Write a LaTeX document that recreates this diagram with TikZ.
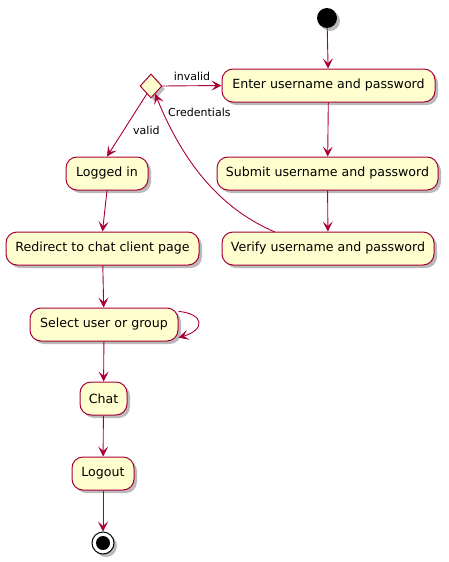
\documentclass[tikz,border=0pt]{standalone}
\usepackage{fontspec}
\setmainfont{DejaVu Sans}
\usetikzlibrary{shapes.geometric,shadows,arrows.meta}
\definecolor{pfill}{HTML}{FEFECE}
\definecolor{pline}{HTML}{A80036}
\begin{document}
\begin{tikzpicture}[x=1pt,y=-1pt,
  act/.style={draw=pline,fill=pfill,line width=1pt,rounded corners=11pt,minimum height=33pt,
    inner xsep=0pt,font=\fontsize{12.6}{14}\selectfont,
    drop shadow={shadow xshift=3pt,shadow yshift=-3pt,fill=black!45,opacity=0.6}},
  dec/.style={draw=pline,fill=pfill,line width=1pt,diamond,minimum width=22pt,minimum height=24pt,inner sep=0pt,
    drop shadow={shadow xshift=3pt,shadow yshift=-3pt,fill=black!45,opacity=0.6}},
  conn/.style={draw=pline,line width=0.9pt,-{Stealth[length=10pt,width=10pt,inset=4.5pt]}},
  lbl/.style={font=\fontsize{11}{13}\selectfont,inner sep=1pt}]
\useasboundingbox (0,0) rectangle (448,562);
\node[circle,fill=black,minimum size=20pt,inner sep=0pt,
  drop shadow={shadow xshift=3pt,shadow yshift=-3pt,fill=black!45,opacity=0.6}] (start) at (327,18) {};
\node[act,minimum width=213pt] (enter) at (328.5,85.5) {Enter username and password};
\node[act,minimum width=221pt] (submit) at (327.5,173.5) {Submit username and password};
\node[act,minimum width=212pt] (verify) at (328,248.5) {Verify username and password};
\node[dec] (dia) at (151,86) {};
\node[act,minimum width=82pt] (logged) at (107,173.5) {Logged in};
\node[act,minimum width=193pt] (redir) at (102.5,248.5) {Redirect to chat client page};
\node[act,minimum width=148pt] (select) at (104,324.5) {Select user or group};
\node[act,minimum width=47pt] (chat) at (103.5,398.5) {Chat};
\node[act,minimum width=62pt] (logout) at (103,473.5) {Logout};
\node[circle,draw=black,line width=1pt,fill=white,minimum size=22pt,inner sep=0pt,
  drop shadow={shadow xshift=3pt,shadow yshift=-3pt,fill=black!45,opacity=0.6}] (end) at (103,543) {};
\node[circle,fill=black,minimum size=14pt,inner sep=0pt] (endin) at (end) {};

\draw[conn] (start) -- (enter);
\draw[conn] (enter) -- (submit);
\draw[conn] (submit) -- (verify);
\draw[conn] (dia.east) -- (enter.west);
\node[lbl] at (192,76) {invalid};
\coordinate (vtop) at (275,232);
\draw[conn] (vtop) .. controls (235,215) and (190,180) .. (dia.-62);
\node[lbl,anchor=west] at (167,112) {Credentials};
\draw[conn] (dia.-118) -- (logged.north);
\node[lbl,anchor=west] at (132,130) {valid};
\draw[conn] (logged.south) -- (redir.north);
\draw[conn] (redir) -- (select);
\draw[conn] (select.10) .. controls (205,314) and (205,330) .. (select.-10);
\draw[conn] (select) -- (chat);
\draw[conn] (chat) -- (logout);
\draw[conn] (logout) -- (end);
\end{tikzpicture}
\end{document}
